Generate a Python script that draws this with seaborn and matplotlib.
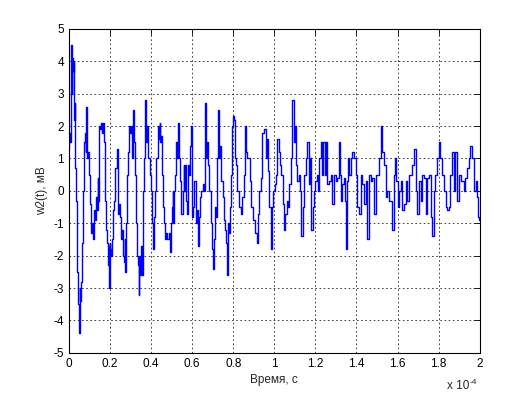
import seaborn as sns
import matplotlib.pyplot as plt
import pandas as pd

# --- 1. DADOS ---
# tempo em unidades de 1e-4 s
TEMPO = [
    0.000, 0.003, 0.006, 0.010, 0.013, 0.016, 0.019, 0.023, 0.025, 0.026,
    0.029, 0.033, 0.036, 0.039, 0.042, 0.045, 0.049, 0.050, 0.054, 0.057,
    0.060, 0.063, 0.066, 0.070, 0.073, 0.076, 0.080, 0.083, 0.088, 0.091,
    0.094, 0.099, 0.104, 0.107, 0.110, 0.114, 0.118, 0.123, 0.126, 0.131,
    0.135, 0.138, 0.141, 0.144, 0.148, 0.153, 0.157, 0.162, 0.167, 0.172,
    0.175, 0.180, 0.185, 0.188, 0.192, 0.195, 0.196, 0.200, 0.204, 0.208,
    0.211, 0.216, 0.221, 0.224, 0.229, 0.235, 0.240, 0.245, 0.250, 0.256,
    0.261, 0.266, 0.270, 0.273, 0.277, 0.282, 0.285, 0.289, 0.292, 0.297,
    0.302, 0.307, 0.310, 0.315, 0.318, 0.321, 0.326, 0.329, 0.334, 0.337,
    0.341, 0.345, 0.350, 0.354, 0.357, 0.360, 0.363, 0.367, 0.370, 0.375,
    0.378, 0.383, 0.389, 0.396, 0.402, 0.405, 0.410, 0.415, 0.418, 0.423,
    0.428, 0.435, 0.440, 0.443, 0.448, 0.451, 0.456, 0.462, 0.467, 0.472,
    0.477, 0.483, 0.488, 0.493, 0.500, 0.503, 0.507, 0.511, 0.516, 0.519,
    0.526, 0.530, 0.535, 0.540, 0.545, 0.551, 0.556, 0.561, 0.564, 0.569,
    0.572, 0.577, 0.584, 0.589, 0.594, 0.597, 0.600, 0.603, 0.610, 0.613,
    0.621, 0.626, 0.633, 0.638, 0.642, 0.649, 0.655, 0.660, 0.665, 0.670,
    0.675, 0.680, 0.686, 0.694, 0.699, 0.702, 0.707, 0.714, 0.718, 0.723,
    0.730, 0.735, 0.740, 0.746, 0.751, 0.756, 0.762, 0.767, 0.770, 0.775,
    0.780, 0.785, 0.791, 0.796, 0.803, 0.808, 0.813, 0.817, 0.824, 0.832,
    0.840, 0.848, 0.856, 0.861, 0.866, 0.873, 0.879, 0.886, 0.892, 0.902,
    0.910, 0.918, 0.925, 0.931, 0.938, 0.946, 0.954, 0.962, 0.966, 0.973,
    0.980, 0.986, 0.991, 0.998, 1.006, 1.012, 1.019, 1.025, 1.032, 1.038,
    1.045, 1.051, 1.058, 1.064, 1.071, 1.077, 1.084, 1.093, 1.100, 1.105,
    1.109, 1.116, 1.123, 1.129, 1.135, 1.142, 1.148, 1.157, 1.165, 1.171,
    1.178, 1.184, 1.189, 1.197, 1.203, 1.210, 1.217, 1.223, 1.230, 1.236,
    1.242, 1.249, 1.255, 1.262, 1.270, 1.278, 1.286, 1.294, 1.303, 1.311,
    1.319, 1.324, 1.328, 1.335, 1.340, 1.345, 1.351, 1.356, 1.359, 1.367,
    1.376, 1.384, 1.392, 1.400, 1.408, 1.416, 1.424, 1.432, 1.440, 1.449,
    1.457, 1.465, 1.473, 1.481, 1.489, 1.497, 1.505, 1.513, 1.522, 1.530,
    1.538, 1.546, 1.554, 1.562, 1.570, 1.578, 1.586, 1.591, 1.598, 1.602,
    1.611, 1.619, 1.627, 1.635, 1.643, 1.651, 1.659, 1.668, 1.676, 1.684,
    1.692, 1.700, 1.708, 1.716, 1.724, 1.732, 1.741, 1.749, 1.757, 1.765,
    1.773, 1.781, 1.789, 1.797, 1.805, 1.813, 1.822, 1.830, 1.838, 1.846,
    1.854, 1.862, 1.870, 1.878, 1.886, 1.894, 1.903, 1.911, 1.919, 1.927,
    1.935, 1.943, 1.951, 1.959, 1.968, 1.976, 1.984, 1.988, 1.995, 2.000,
]

# sinal w2(t) em mV
SINAL = [
    1.3, 1.8, 1.5, 2.3, 4.5, 3.0, 4.1, 3.7, 4.0, 2.2,
    2.7, 0.7, -0.3, -1.3, -2.5, -3.5, -3.8, -4.4, -3.0, -3.4,
    -2.8, -2.0, -1.6, 0.0, 0.3, 1.5, 1.8, 1.2, 2.6, 1.0,
    1.2, 0.5, -0.4, -0.9, -1.3, -1.0, -1.5, -1.2, -0.6, -0.9,
    -0.2, -0.6, 0.4, -0.3, 2.0, 1.9, 2.1, 1.8, 2.1, 1.5,
    0.9, -0.3, -1.2, -1.6, -2.3, -1.7, -3.0, -1.6, -1.8, -2.0,
    -1.5, -0.6, -0.3, 0.0, 0.7, 1.3, -0.7, -0.4, -0.8, -1.5,
    -1.2, -2.0, -2.2, -1.5, -2.5, -1.0, 0.5, 1.2, 1.5, 2.0,
    1.8, 2.0, 1.0, 2.5, 1.5, 1.0, 0.5, -1.0, -2.0, -2.3,
    -3.2, -2.0, -2.6, -1.7, -2.6, -1.0, 0.0, 1.0, 2.2, 2.8,
    1.5, 2.0, 1.0, 0.5, 0.0, -1.0, -1.8, -1.5, -0.8, 0.0,
    1.0, 2.0, 1.6, 2.1, 1.5, 1.7, 0.5, -0.5, -1.0, -1.5,
    -1.3, -1.5, -1.3, -1.9, -1.0, -0.5, 0.0, -1.0, 0.0, 0.5,
    1.5, 1.0, 2.1, 1.0, 0.3, -0.7, 0.0, 0.8, 0.0, 0.8,
    -0.3, -0.7, 0.8, 0.5, 1.4, 2.0, 1.0, -0.8, -0.5, 0.3,
    -1.0, -0.6, -1.7, -0.8, -0.2, 0.0, 0.2, 0.0, 2.7, 1.0,
    1.5, 0.8, 0.0, -1.0, -1.8, -2.4, -1.5, -0.5, -0.8, 1.0,
    2.5, 1.0, 1.4, 0.3, -0.2, -0.9, -1.2, -1.6, -2.6, -1.0,
    -1.3, -0.5, 0.5, 2.0, 2.3, 2.2, 1.0, 0.8, 0.0, -0.5,
    -0.7, -0.2, 0.5, 2.0, 1.2, 1.0, 1.0, 0.3, -0.5, -0.9,
    -1.3, -1.6, -0.7, 0.0, 0.4, 1.8, 1.9, 1.0, 1.6, 0.6,
    -0.5, -1.8, -0.5, 0.0, 0.2, 0.5, 1.6, 1.2, 0.8, 0.5,
    -0.4, -1.2, -0.7, -0.3, -0.5, 0.2, 1.0, 2.8, 1.5, 2.0,
    0.8, 0.3, 0.5, 0.0, -1.4, -0.5, 0.5, 1.0, 1.5, 0.2,
    1.0, -1.2, -0.5, 0.0, 0.3, 0.5, 0.0, 1.0, 1.5, 0.5,
    1.5, 0.5, 1.5, 0.2, 0.3, 0.5, -0.4, 0.5, 0.3, 0.4,
    1.5, 0.5, -0.3, 0.2, 0.4, -0.3, -1.8, 0.3, 1.0, 0.5,
    1.0, 1.2, 1.0, 0.5, -0.5, -0.7, 0.5, 0.2, -0.4, 0.3,
    -1.5, 0.5, 0.3, 0.4, -0.7, 0.5, 0.5, 1.0, 2.0, 1.2,
    0.8, -0.2, 0.0, -0.3, -0.3, -1.2, 0.5, 1.0, 0.3, -0.5,
    0.0, 0.3, -0.6, -0.4, 0.3, -0.3, 0.5, 0.5, 0.8, 1.3,
    0.0, -0.7, 0.3, -0.3, 0.5, 0.4, -0.7, 0.4, 0.5, -0.8,
    -1.4, 0.0, 0.5, 1.0, 1.5, 1.0, 0.5, 0.0, -0.5, -0.6,
    -0.5, 0.5, 1.2, 0.0, 1.2, -0.3, 0.5, 0.3, 0.3, 0.0,
    0.4, 0.7, 1.0, 1.4, 1.0, 0.0, 0.3, -0.2, -0.8, -0.9,
]

X_TICKS = [0, 0.2, 0.4, 0.6, 0.8, 1, 1.2, 1.4, 1.6, 1.8, 2]
X_TICK_LABELS = ['0', '0.2', '0.4', '0.6', '0.8', '1', '1.2', '1.4', '1.6', '1.8', '2']
Y_TICKS = [-5, -4, -3, -2, -1, 0, 1, 2, 3, 4, 5]

COR_LINHA = '#0000FF'
FONTE = 8.5


def criar_grafico():
    """Desenha o sinal no estilo de figura do MATLAB."""
    sns.set_style('white')
    plt.rcParams['font.family'] = ['Liberation Sans', 'DejaVu Sans']
    plt.rcParams['axes.unicode_minus'] = False

    df = pd.DataFrame({'t': TEMPO, 'w2': SINAL})

    fig = plt.figure(figsize=(5.3, 3.96), dpi=100)
    fig.patch.set_facecolor('white')
    ax = fig.add_axes([0.13, 0.109, 0.775, 0.818])

    # degraus verticais como no sinal amostrado original
    sns.lineplot(data=df, x='t', y='w2', color=COR_LINHA, linewidth=1.0,
                 sort=False, estimator=None, drawstyle='steps-mid', ax=ax)

    ax.set_xlim(0, 2)
    ax.set_ylim(-5, 5)
    ax.set_xticks(X_TICKS)
    ax.set_xticklabels(X_TICK_LABELS)
    ax.set_yticks(Y_TICKS)

    # grade pontilhada preta
    ax.grid(True, color='#222222', linestyle=(0, (2, 3)), linewidth=0.6)
    for lado in ax.spines.values():
        lado.set_color('black')
        lado.set_linewidth(0.8)

    ax.tick_params(direction='in', length=4, width=0.6, colors='black',
                   labelsize=FONTE, top=True, right=True, pad=3.5)

    ax.set_xlabel('Время, с', fontsize=FONTE, labelpad=3)
    ax.set_ylabel('w2(t), мВ', fontsize=FONTE, labelpad=4)

    # expoente do eixo x, no canto como no MATLAB
    ax.text(0.974, -0.113, 'x 10', transform=ax.transAxes,
            ha='right', va='baseline', fontsize=FONTE)
    ax.text(0.975, -0.095, '-4', transform=ax.transAxes,
            ha='left', va='baseline', fontsize=FONTE - 2.5)

    fig.savefig('out.png', dpi=100, facecolor='white')


def main():
    criar_grafico()


if __name__ == '__main__':
    main()
